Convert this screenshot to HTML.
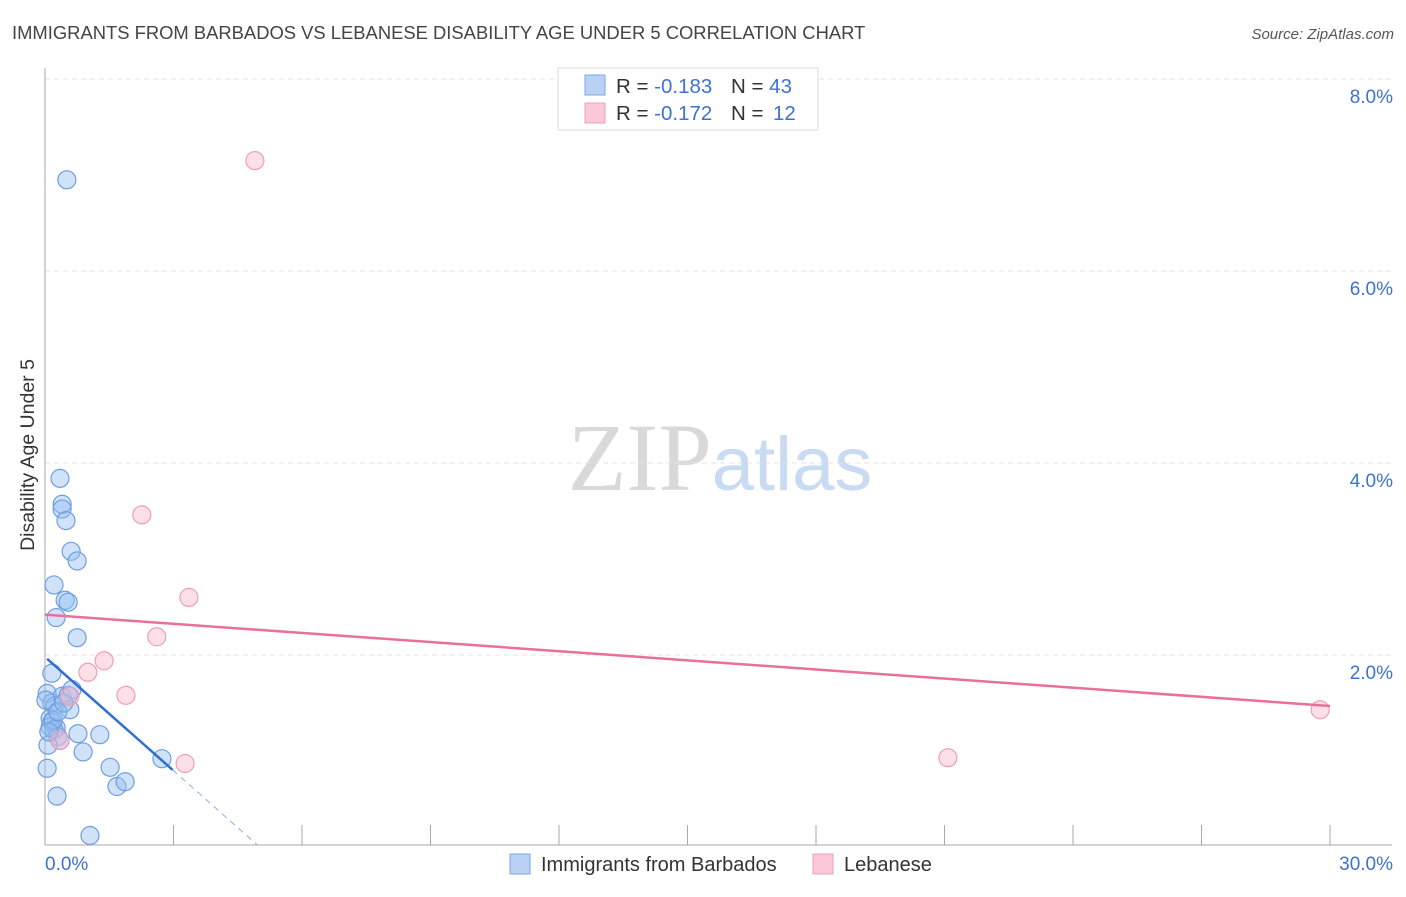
<!DOCTYPE html>
<html><head><meta charset="utf-8"><style>
body{margin:0;background:#fff;font-family:"Liberation Sans",sans-serif;}
svg text{font-family:"Liberation Sans",sans-serif;}
</style></head><body>
<svg id="chart" width="1406" height="892" viewBox="0 0 1406 892" xmlns="http://www.w3.org/2000/svg">
<text x="12" y="39" font-size="18.4" fill="#444">IMMIGRANTS FROM BARBADOS VS LEBANESE DISABILITY AGE UNDER 5 CORRELATION CHART</text>
<text x="1394" y="39" font-size="15" fill="#555" text-anchor="end" font-style="italic">Source: ZipAtlas.com</text>
<text x="720" y="490" font-size="96" text-anchor="middle"><tspan font-family="Liberation Serif" fill="#d9d9d9">ZIP</tspan><tspan fill="#c9daf3" font-size="76">atlas</tspan></text>
<text transform="translate(34,455) rotate(-90)" font-size="19.5" fill="#333" text-anchor="middle">Disability Age Under 5</text>
<g id="grid"></g><g id="axes"></g><g id="marks"></g>
<g>
<rect x="558" y="68" width="260" height="62" fill="#fff" stroke="#ddd"/>
<rect x="585" y="75" width="20" height="20" fill="#b8d1f5" stroke="#7ea7e3"/>
<rect x="585" y="103" width="20" height="20" fill="#fac8d7" stroke="#eea0b8"/>
<text x="616" y="93" font-size="20.5" fill="#333">R = <tspan fill="#3d72d0">-0.183</tspan><tspan x="731">N = </tspan><tspan fill="#3d72d0">43</tspan></text>
<text x="616" y="120" font-size="20.5" fill="#333">R = <tspan fill="#3d72d0">-0.172</tspan><tspan x="731">N = </tspan><tspan fill="#3d72d0" x="773">12</tspan></text>
</g>
<g>
<rect x="510" y="854" width="20" height="20" fill="#b8d1f5" stroke="#7ea7e3"/>
<text x="541" y="871" font-size="20" fill="#333">Immigrants from Barbados</text>
<rect x="813" y="854" width="20" height="20" fill="#fac8d7" stroke="#eea0b8"/>
<text x="844" y="871" font-size="20" fill="#333">Lebanese</text>
</g>
</svg>
<script>
const yTicks=[2,4,6,8];
const yTickLabels=["2.0%","4.0%","6.0%","8.0%"];
const xTickLabels=["0.0%","30.0%"];
const blueX=[0.51,0.35,0.40,0.40,0.49,0.61,0.75,0.21,0.47,0.54,0.26,0.75,0.16,0.05,0.16,0.23,0.40,0.54,0.63,0.58,0.12,0.16,0.26,0.12,0.21,0.30,0.35,0.07,0.77,0.89,1.28,0.05,1.52,1.68,1.87,0.28,1.05,2.73,0.19,0.09,0.02,0.30,0.44];
const blueY=[6.95,3.84,3.57,3.52,3.40,3.08,2.98,2.73,2.57,2.55,2.39,2.18,1.81,1.60,1.50,1.47,1.57,1.58,1.64,1.43,1.34,1.30,1.24,1.25,1.22,1.15,1.11,1.06,1.18,0.99,1.17,0.82,0.83,0.63,0.68,0.53,0.12,0.92,1.32,1.20,1.53,1.41,1.50];
const pinkX=[4.90,2.26,3.36,2.61,1.38,1.00,1.89,0.58,0.35,3.27,21.08,29.77];
const pinkY=[7.15,3.46,2.60,2.19,1.94,1.82,1.58,1.57,1.11,0.87,0.93,1.43];
const blueTrend=[1.98,-0.395];
const pinkTrend=[2.42,-0.0317];
const X0=45,X1=1330,Y0=847,PPY=96;
const sx=v=>X0+(v/30)*(X1-X0);
const sy=v=>Y0-v*PPY;
const NS="http://www.w3.org/2000/svg";
function mk(tag,attrs,parent){const e=document.createElementNS(NS,tag);for(const k in attrs)e.setAttribute(k,attrs[k]);document.getElementById(parent).appendChild(e);return e;}
yTicks.forEach((t,i)=>{
 const g=mk('line',{x1:45,x2:1392,y1:sy(t),y2:sy(t),stroke:'#e3e3e3','stroke-dasharray':'5,4'},'grid');
 
 
 const l=mk('text',{x:1393,y:sy(t)+24,'font-size':19,fill:'#3d72d0','text-anchor':'end'},'axes');
 l.textContent=yTickLabels[i];
 
 
});
const ya=mk('line',{x1:45,x2:45,y1:68,y2:845,stroke:'#aaa'},'axes');


const xa=mk('line',{x1:45,x2:1392,y1:845,y2:845,stroke:'#aaa'},'axes');


for(let i=0;i<=10;i++){
 const t=mk('line',{x1:sx(i*3),x2:sx(i*3),y1:825,y2:845,stroke:'#aaa'},'axes');
 
 
}
const xl0=mk('text',{x:45,y:870,'font-size':19,fill:'#3d72d0'},'axes');xl0.textContent=xTickLabels[0];


const xl1=mk('text',{x:1393,y:870,'font-size':19,fill:'#3d72d0','text-anchor':'end'},'axes');xl1.textContent=xTickLabels[1];


blueX.forEach((x,i)=>{
 const c=mk('circle',{cx:sx(x),cy:sy(blueY[i]),r:9,fill:'rgba(150,190,240,0.45)',stroke:'#6f9ee0','stroke-width':1.2},'marks');
 
 
});
pinkX.forEach((x,i)=>{
 const c=mk('circle',{cx:sx(x),cy:sy(pinkY[i]),r:9,fill:'rgba(250,185,205,0.45)',stroke:'#ee9fb8','stroke-width':1.2},'marks');
 
 
});
const bt=x=>blueTrend[0]+blueTrend[1]*x;
const b1=mk('line',{x1:sx(0.05),y1:sy(bt(0.05)),x2:sx(2.98),y2:sy(bt(2.98)),stroke:'#2e6fd6','stroke-width':2.5},'marks');


const b2=mk('line',{x1:sx(2.98),y1:sy(bt(2.98)),x2:sx(4.95),y2:sy(bt(4.95)),stroke:'#8aaee6','stroke-width':1,'stroke-dasharray':'6,5'},'marks');


const pt=x=>pinkTrend[0]+pinkTrend[1]*x;
const p1=mk('line',{x1:sx(0),y1:sy(pt(0)),x2:sx(30),y2:sy(pt(30)),stroke:'#e8709a','stroke-width':2.5},'marks');


</script>
</body></html>
